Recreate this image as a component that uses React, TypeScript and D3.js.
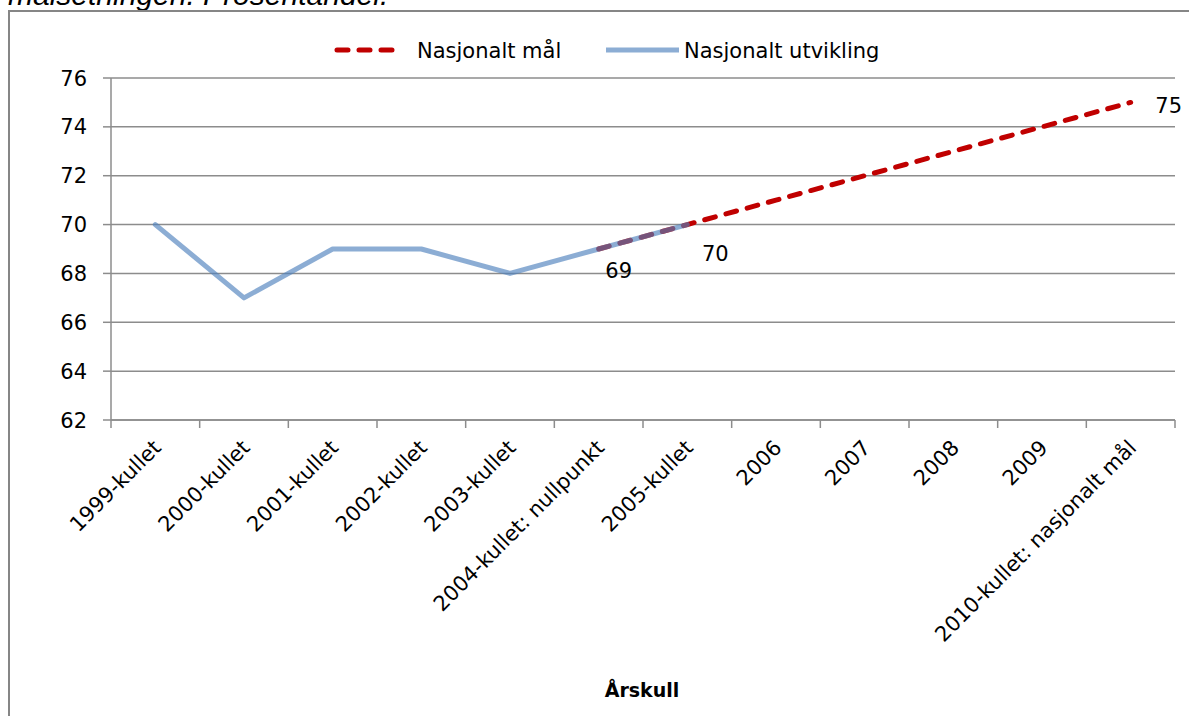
import React from "react";
import * as d3 from "d3";

const categories = [
  "1999-kullet",
  "2000-kullet",
  "2001-kullet",
  "2002-kullet",
  "2003-kullet",
  "2004-kullet: nullpunkt",
  "2005-kullet",
  "2006",
  "2007",
  "2008",
  "2009",
  "2010-kullet: nasjonalt mål",
];
const utvikling: (number | null)[] = [70, 67, 69, 69, 68, 69, 70, null, null, null, null, null];
const maal: (number | null)[] = [null, null, null, null, null, 69, 70, 71, 72, 73, 74, 75];
const maalLabels: { idx: number; text: string }[] = [
  { idx: 5, text: "69" },
  { idx: 6, text: "70" },
  { idx: 11, text: "75" },
];
const yTicks = [62, 64, 66, 68, 70, 72, 74, 76];
const seriesNames = ["Nasjonalt mål", "Nasjonalt utvikling"];
const axisTitle = "Årskull";
const topText = "målsetningen. Prosentandel.";

const FONT = "DejaVu Sans";
const GRID = "#8c8c8c";
const RED = "#C00000";
const BLUE = "#4F81BD";

export default function App() {
  const W = 1189, H = 716;
  const left = 111, right = 1175, top = 78, bottom = 420;
  const x = d3.scaleBand<string>().domain(categories).range([left, right]);
  const bw = x.bandwidth();
  const cx = (c: string) => (x(c) as number) + bw / 2;
  const y = d3.scaleLinear().domain([62, 76]).range([bottom, top]);

  const line = d3
    .line<{ c: string; v: number | null }>()
    .defined((d) => d.v != null)
    .x((d) => cx(d.c))
    .y((d) => y(d.v as number));

  const redPath = line(categories.map((c, i) => ({ c, v: maal[i] }))) || "";
  const bluePath = line(categories.map((c, i) => ({ c, v: utvikling[i] }))) || "";

  const boundaries = d3.range(categories.length + 1).map((i) => left + i * bw);

  const labelOffsets: Record<number, [number, number]> = {
    5: [20, 21],
    6: [28, 29],
    11: [38, 3],
  };

  return (
    <svg
      width={W}
      height={H}
      style={{ position: "absolute", left: 0, top: 0, background: "#fff" }}
      fontFamily={FONT}
    >
      <rect x={0} y={0} width={W} height={H} fill="#fff" />
      <text x={8} y={5} fontFamily="Liberation Sans" fontStyle="italic" fontSize={30} fill="#000">
        {topText}
      </text>
      {/* frame */}
      <path d={`M9,${H + 5} L9,11 L${W + 5},11`} fill="none" stroke="#868686" strokeWidth={2} />

      {/* gridlines */}
      {yTicks.map((t) => (
        <line key={t} x1={left} x2={right} y1={y(t)} y2={y(t)} stroke={GRID} strokeWidth={1.5} />
      ))}
      {/* y axis */}
      <line x1={left} x2={left} y1={top} y2={bottom} stroke={GRID} strokeWidth={1.5} />
      {yTicks.map((t) => (
        <g key={"yt" + t}>
          <line x1={left - 8} x2={left} y1={y(t)} y2={y(t)} stroke={GRID} strokeWidth={1.5} />
          <text x={87} y={y(t)} dy="0.36em" textAnchor="end" fontSize={21} fill="#000">
            {t}
          </text>
        </g>
      ))}
      {/* x axis */}
      <line x1={left} x2={right} y1={bottom} y2={bottom} stroke={GRID} strokeWidth={1.5} />
      {boundaries.map((b, i) => (
        <line key={"xt" + i} x1={b} x2={b} y1={bottom} y2={bottom + 8} stroke={GRID} strokeWidth={1.5} />
      ))}
      {categories.map((c) => (
        <text
          key={"xl" + c}
          transform={`translate(${cx(c) + 7},${449}) rotate(-45)`}
          textAnchor="end"
          fontSize={21}
          fill="#000"
        >
          {c}
        </text>
      ))}

      {/* series */}
      <path d={redPath} fill="none" stroke={RED} strokeWidth={5} strokeDasharray="11 11" strokeLinecap="round" />
      <path d={bluePath} fill="none" stroke={BLUE} strokeOpacity={0.65} strokeWidth={5} strokeLinejoin="round" strokeLinecap="round" />

      {/* data labels */}
      {maalLabels.map((l) => {
        const c = categories[l.idx];
        const [dx, dy] = labelOffsets[l.idx];
        return (
          <text key={"dl" + l.idx} x={cx(c) + dx} y={y(maal[l.idx] as number) + dy} dy="0.36em" textAnchor="middle" fontSize={21} fill="#000">
            {l.text}
          </text>
        );
      })}

      {/* legend */}
      <line x1={337} x2={395} y1={50} y2={50} stroke={RED} strokeWidth={5} strokeDasharray="11 11" strokeLinecap="round" />
      <text x={417} y={50} dy="0.36em" fontSize={21} fill="#000">
        {seriesNames[0]}
      </text>
      <line x1={606} x2={679} y1={50} y2={50} stroke={BLUE} strokeOpacity={0.65} strokeWidth={5} />
      <text x={684} y={50} dy="0.36em" fontSize={21} fill="#000">
        {seriesNames[1]}
      </text>

      {/* axis title */}
      <text x={642} y={697} textAnchor="middle" fontWeight="bold" fontSize={19} fill="#000">
        {axisTitle}
      </text>
    </svg>
  );
}
